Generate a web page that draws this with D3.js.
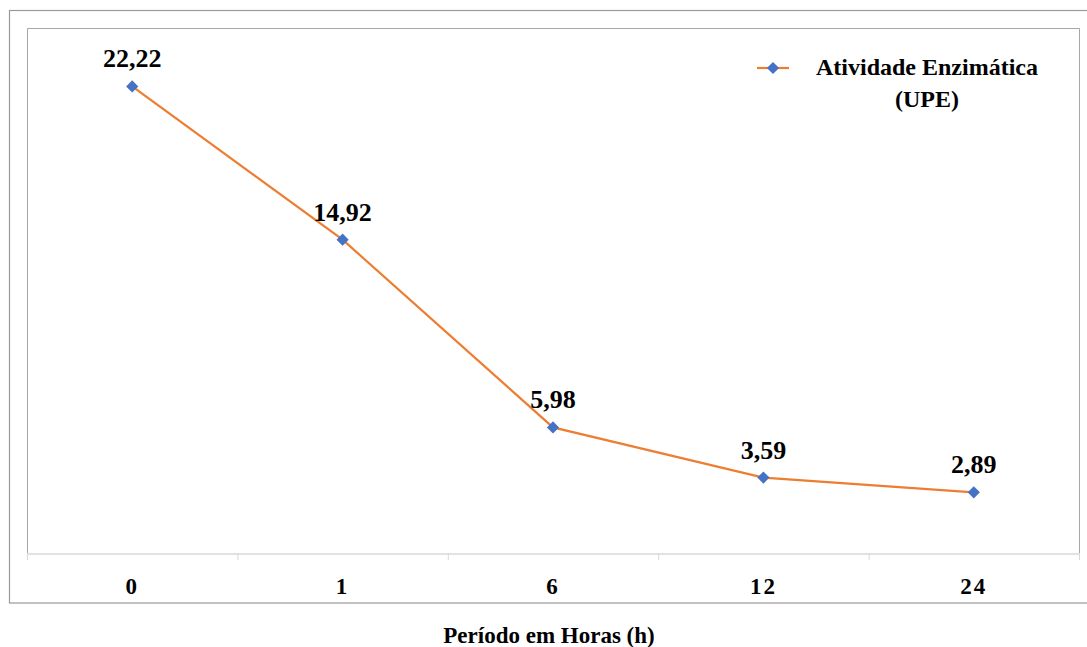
<!DOCTYPE html>
<html>
<head>
<meta charset="utf-8">
<script src="https://cdn.jsdelivr.net/npm/d3@7"></script>
<style>
  body { margin: 0; background: #fff; }
</style>
</head>
<body>
<div id="chart"></div>
<script>
// data
var hours = ["0", "1", "6", "12", "24"];
var activity = [22.22, 14.92, 5.98, 3.59, 2.89];
var labels = ["22,22", "14,92", "5,98", "3,59", "2,89"];
var seriesName = ["Atividade Enzimática", "(UPE)"];
var xTitle = "Período em Horas (h)";

var width = 1087, height = 647;
var plot = { left: 27, right: 1079, top: 28, bottom: 553 };
var serif = "'Liberation Serif'";

var svg = d3.select("#chart")
  .append("svg")
  .attr("width", width)
  .attr("height", height);

// outer frame
svg.append("rect")
  .attr("x", 9.5).attr("y", 10.5)
  .attr("width", 1090).attr("height", 592.5)
  .attr("fill", "none")
  .attr("stroke", "#9a9a9a")
  .attr("stroke-width", 1.2);

// inner plot frame (left, top, right)
svg.append("path")
  .attr("d", "M" + (plot.left + 0.5) + "," + plot.bottom + "V" + (plot.top + 0.5) +
             "H" + (plot.right + 0.5) + "V" + plot.bottom)
  .attr("fill", "none")
  .attr("stroke", "#a6a6a6")
  .attr("stroke-width", 1);

var x = d3.scaleBand()
  .domain(hours)
  .range([plot.left, plot.right]);

var y = d3.scaleLinear()
  .domain([0, 25])
  .range([plot.bottom, plot.top]);

// x axis
var xAxis = svg.append("g")
  .attr("transform", "translate(0," + (plot.bottom + 0.5) + ")")
  .call(d3.axisBottom(x).tickSize(0).tickPadding(0));
xAxis.select(".domain").attr("stroke", "#d9d9d9").attr("stroke-width", 1.5);
xAxis.selectAll(".tick text")
  .attr("y", 40)
  .attr("dy", 0)
  .style("font-family", serif)
  .style("font-weight", "bold")
  .style("font-size", "23px")
  .style("letter-spacing", "2px")
  .attr("fill", "#000");

// tick marks between categories
var bounds = hours.map(function(h) { return x(h); }).concat([plot.right]);
svg.selectAll("tickMarks")
  .data(bounds)
  .enter()
  .append("line")
    .attr("x1", function(d) { return d + 0.5; })
    .attr("x2", function(d) { return d + 0.5; })
    .attr("y1", plot.bottom)
    .attr("y2", plot.bottom + 7)
    .attr("stroke", "#d9d9d9")
    .attr("stroke-width", 1);

var dataReady = hours.map(function(h, i) {
  return { hour: h, value: activity[i], label: labels[i] };
});
var cx = function(d) { return x(d.hour) + x.bandwidth() / 2; };

var line = d3.line()
  .x(cx)
  .y(function(d) { return y(d.value); });

svg.append("path")
  .datum(dataReady)
  .attr("d", line)
  .attr("fill", "none")
  .attr("stroke", "#ED7D31")
  .attr("stroke-width", 2.2);

var diamond = d3.symbol().type(d3.symbolDiamond2).size(95);

svg.selectAll("myPoints")
  .data(dataReady)
  .enter()
  .append("path")
    .attr("d", diamond)
    .attr("transform", function(d) { return "translate(" + cx(d) + "," + y(d.value) + ")"; })
    .attr("fill", "#4472C4");

svg.selectAll("myLabels")
  .data(dataReady)
  .enter()
  .append("text")
    .attr("x", cx)
    .attr("y", function(d) { return y(d.value) - 19; })
    .attr("text-anchor", "middle")
    .style("font-family", serif)
    .style("font-weight", "bold")
    .style("font-size", "26px")
    .text(function(d) { return d.label; });

// legend
var legend = svg.append("g")
  .style("font-family", serif)
  .style("font-weight", "bold")
  .style("font-size", "24px");
legend.append("line")
  .attr("x1", 757).attr("x2", 789)
  .attr("y1", 68).attr("y2", 68)
  .attr("stroke", "#ED7D31")
  .attr("stroke-width", 2.2);
legend.append("path")
  .attr("d", diamond)
  .attr("transform", "translate(773,68)")
  .attr("fill", "#4472C4");
legend.append("text")
  .attr("x", 927).attr("y", 75)
  .attr("text-anchor", "middle")
  .text(seriesName[0]);
legend.append("text")
  .attr("x", 927).attr("y", 107)
  .attr("text-anchor", "middle")
  .text(seriesName[1]);

// x title
svg.append("text")
  .attr("x", 549).attr("y", 643)
  .attr("text-anchor", "middle")
  .style("font-family", serif)
  .style("font-weight", "bold")
  .style("font-size", "23px")
  .text(xTitle);
</script>
</body>
</html>
